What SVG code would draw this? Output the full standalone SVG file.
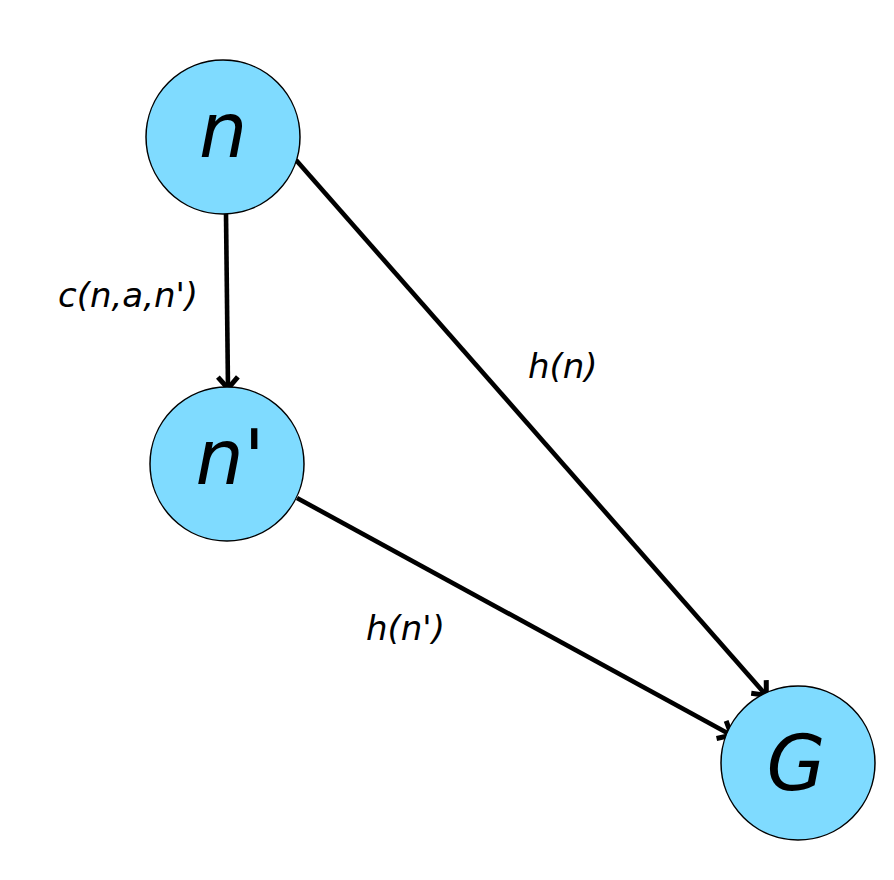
<svg xmlns="http://www.w3.org/2000/svg" width="894" height="880" viewBox="0 0 894 880">
<style>
.node{fill:#7fdbff;stroke:#000;stroke-width:1.5}
.nt{font-family:"DejaVu Sans",sans-serif;font-style:italic;font-size:76px;fill:#000;text-anchor:middle}
.lb{font-family:"DejaVu Sans",sans-serif;font-style:italic;font-size:34px;fill:#000}
.edge{stroke:#000;stroke-width:4.6;fill:none}
</style>
<defs>
<marker id="arr" viewBox="-20 -20 40 40" refX="-2" refY="0" markerWidth="40" markerHeight="40" orient="auto" markerUnits="userSpaceOnUse">
<path d="M-13,-10 L-1.5,0 L-13,10" fill="none" stroke="#000" stroke-width="5"/>
</marker>
</defs>
<rect width="894" height="880" fill="#fff"/>
<g id="connectors">
<line class="edge" x1="226" y1="214" x2="228" y2="388" marker-end="url(#arr)"/>
<line class="edge" x1="296" y1="160" x2="766" y2="695" marker-end="url(#arr)"/>
<line class="edge" x1="297" y1="498" x2="731" y2="735" marker-end="url(#arr)"/>
<text class="lb" x="58" y="307">c(n,a,n')</text>
<text class="lb" x="528" y="378">h(n)</text>
<text class="lb" x="366" y="640">h(n')</text>
</g>
<g id="node-n">
<circle class="node" cx="223" cy="137" r="77"/>
<text class="nt" x="223" y="157">n</text>
</g>
<g id="node-n2">
<circle class="node" cx="227" cy="464" r="77"/>
<text class="nt" x="230" y="484">n'</text>
</g>
<g id="node-G">
<circle class="node" cx="798" cy="763" r="77"/>
<text class="nt" x="796" y="790">G</text>
</g>
</svg>
